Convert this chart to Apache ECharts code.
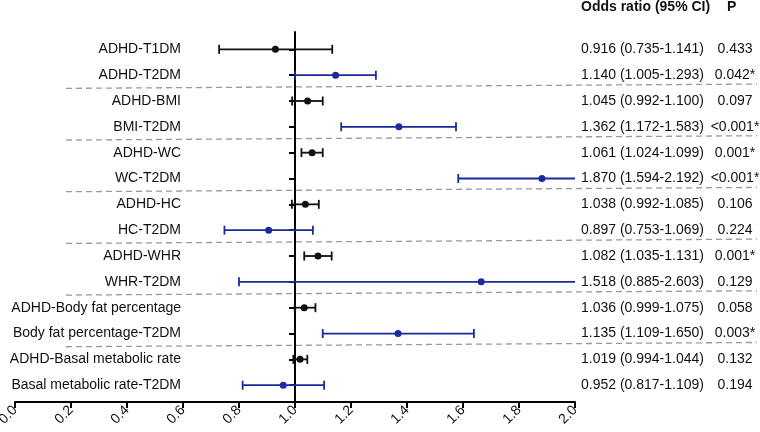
<!DOCTYPE html>
<html><head><meta charset="utf-8">
<script src="https://cdn.jsdelivr.net/npm/echarts@6/dist/echarts.min.js"></script>
<style>html,body{margin:0;padding:0;background:#fff}#c{width:760px;height:432px}</style>
</head><body><div id="c"></div>
<script>
const categories = ['ADHD-T1DM','ADHD-T2DM','ADHD-BMI','BMI-T2DM','ADHD-WC','WC-T2DM','ADHD-HC','HC-T2DM','ADHD-WHR','WHR-T2DM','ADHD-Body fat percentage','Body fat percentage-T2DM','ADHD-Basal metabolic rate','Basal metabolic rate-T2DM'];
// plotted positions
const pointPlot = [0.930,1.145,1.045,1.371,1.061,1.882,1.037,0.906,1.082,1.665,1.033,1.368,1.018,0.958];
const lowPlot   = [0.729,1.000,0.990,1.165,1.023,1.583,0.989,0.748,1.033,0.800,0.999,1.099,0.994,0.813];
const highPlot  = [1.133,1.289,1.099,1.575,1.099,2.192,1.085,1.064,1.131,2.603,1.073,1.639,1.044,1.104];
// printed table
const orText = ['0.916 (0.735-1.141)','1.140 (1.005-1.293)','1.045 (0.992-1.100)','1.362 (1.172-1.583)','1.061 (1.024-1.099)','1.870 (1.594-2.192)','1.038 (0.992-1.085)','0.897 (0.753-1.069)','1.082 (1.035-1.131)','1.518 (0.885-2.603)','1.036 (0.999-1.075)','1.135 (1.109-1.650)','1.019 (0.994-1.044)','0.952 (0.817-1.109)'];
const pText = ['0.433','0.042*','0.097','<0.001*','0.001*','<0.001*','0.106','0.224','0.001*','0.129','0.058','0.003*','0.132','0.194'];
const groupSize = 2;

const FONT = 'Liberation Sans, Arial, Helvetica, sans-serif';
const BLACK = '#111111';
const BLUE = '#1a2a9f';
const rows = categories.map((c, i) => i + 1);

const barData = categories.map((c, i) => [i + 1, lowPlot[i], pointPlot[i], highPlot[i], i % 2]);
const sepData = [];
for (let i = groupSize; i < categories.length; i += groupSize) sepData.push([1, i + 0.5]);

const chart = echarts.init(document.getElementById('c'), null, {renderer: 'canvas'});
chart.setOption({
  animation: false,
  backgroundColor: '#fff',
  textStyle: {fontFamily: FONT},
  grid: {left: 15, right: 185, top: 32, bottom: 30, containLabel: false, outerBoundsMode: 'none'},
  graphic: [
    {type: 'text', left: 581, top: 0, style: {text: 'Odds ratio (95% CI)', font: 'bold 14px ' + FONT, fill: BLACK}},
    {type: 'text', left: 727, top: 0, style: {text: 'P', font: 'bold 14px ' + FONT, fill: BLACK}}
  ],
  xAxis: {
    type: 'value', min: 0, max: 2, interval: 0.2,
    splitLine: {show: false},
    axisLine: {show: true, onZero: false, lineStyle: {color: '#000', width: 2}},
    axisTick: {show: true, length: 6, lineStyle: {color: '#000', width: 2}},
    axisLabel: {rotate: 45, fontSize: 14, color: BLACK, margin: 6, fontFamily: FONT,
      formatter: v => v.toFixed(1)}
  },
  yAxis: [{
    type: 'value', inverse: true, min: 0.33, max: 14.65,
    position: 'left', offset: -280,
    splitLine: {show: false},
    axisLine: {show: true, onZero: false, lineStyle: {color: '#000', width: 2}},
    axisTick: {show: true, length: 6, customValues: rows, lineStyle: {color: '#000', width: 2}},
    axisLabel: {customValues: rows, fontSize: 14, color: BLACK, margin: 114, fontFamily: FONT,
      formatter: v => categories[Math.round(v) - 1]}
  }, {
    type: 'value', inverse: true, min: 0.33, max: 14.65,
    position: 'right',
    splitLine: {show: false},
    axisLine: {show: false}, axisTick: {show: false},
    axisLabel: {customValues: rows, margin: 6, fontFamily: FONT, color: BLACK,
      formatter: v => { const i = Math.round(v) - 1; return '{a|' + orText[i] + '}{p|' + pText[i] + '}'; },
      rich: {a: {width: 135, fontSize: 14, color: BLACK, fontFamily: FONT},
             p: {width: 38, align: 'center', fontSize: 14, color: BLACK, fontFamily: FONT}}}
  }],
  series: [{
    type: 'custom', name: 'sep', clip: false, z: 1,
    data: sepData,
    renderItem: function (params, api) {
      const p = api.coord([api.value(0), api.value(1)]);
      return {type: 'line', shape: {x1: 66, y1: p[1] + 0.3, x2: 757, y2: p[1] - 4},
        style: {stroke: '#9a9a9a', lineWidth: 1.3, lineDash: [6, 4]}};
    }
  }, {
    type: 'custom', name: 'OR', clip: true, z: 3,
    encode: {x: [1, 2, 3], y: 0},
    data: barData,
    renderItem: function (params, api) {
      const y = api.value(0);
      const lo = api.coord([api.value(1), y]);
      const pt = api.coord([api.value(2), y]);
      const hi = api.coord([api.value(3), y]);
      const color = api.value(4) ? BLUE : BLACK;
      const cap = 4.5;
      const st = {stroke: color, lineWidth: 1.8};
      return {type: 'group', children: [
        {type: 'line', shape: {x1: lo[0], y1: lo[1], x2: hi[0], y2: hi[1]}, style: st},
        {type: 'line', shape: {x1: lo[0], y1: lo[1] - cap, x2: lo[0], y2: lo[1] + cap}, style: st},
        {type: 'line', shape: {x1: hi[0], y1: hi[1] - cap, x2: hi[0], y2: hi[1] + cap}, style: st},
        {type: 'circle', shape: {cx: pt[0], cy: pt[1], r: 3.5}, style: {fill: color}}
      ]};
    }
  }]
});
</script></body></html>
